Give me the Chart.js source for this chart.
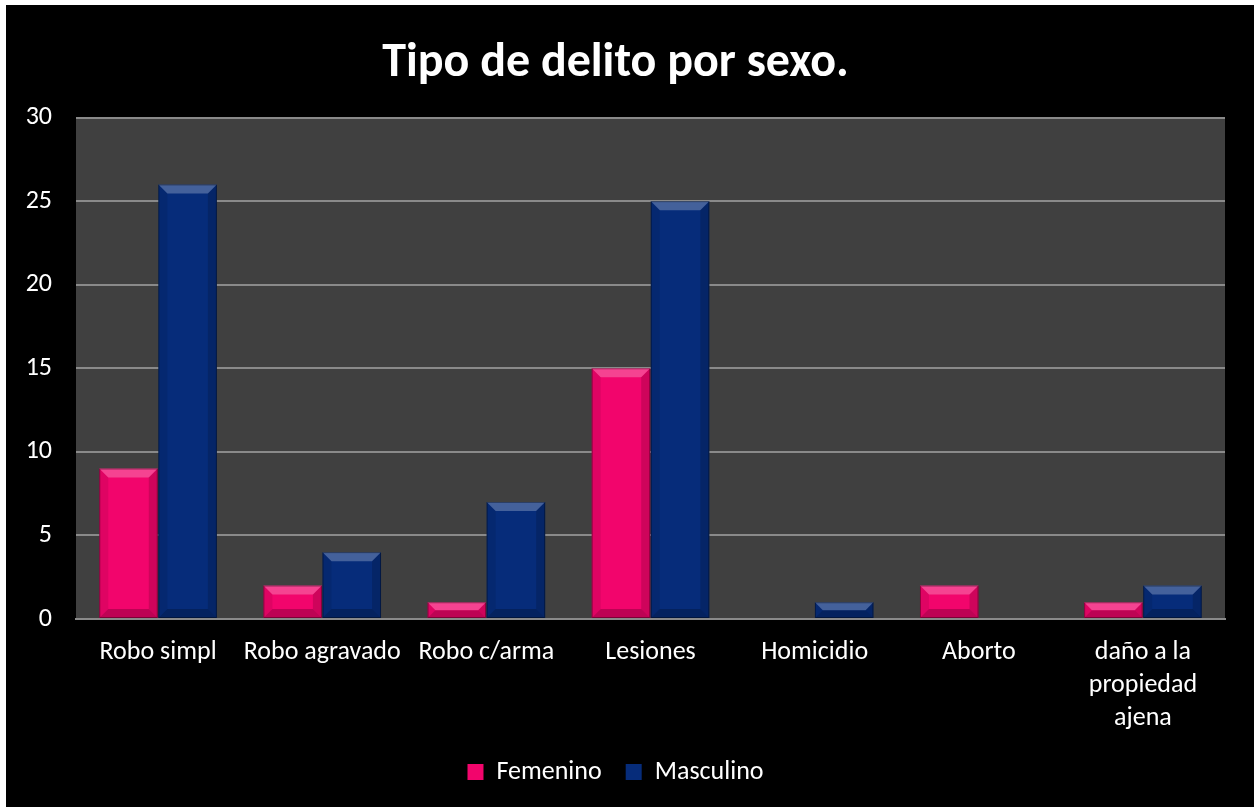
<!DOCTYPE html>
<html>
<head>
<meta charset="utf-8">
<title>Tipo de delito por sexo</title>
<script src="https://cdn.jsdelivr.net/npm/chart.js@4/dist/chart.umd.min.js"></script>
<style>
	html, body { margin: 0; padding: 0; background: #fff; }
	#wrap { position: absolute; left: 6px; top: 5px; width: 1248px; height: 802px; background: #000; }
</style>
</head>
<body>
<div id="wrap"><canvas id="canvas" width="1248" height="802"></canvas></div>
<script>
const categories = ["Robo simpl", "Robo agravado", "Robo c/arma", "Lesiones", "Homicidio", "Aborto", ["daño a la", "propiedad", "ajena"]];
const femenino = [9, 2, 1, 15, 0, 2, 1];
const masculino = [26, 4, 7, 25, 1, 0, 2];
const yTicks = [0, 5, 10, 15, 20, 25, 30];

const PINK = "#f2056c";
const BLUE = "#062c7a";
const FONT = "Carlito, Lato, 'Open Sans', sans-serif";

// dark plot background behind the bars
const plotBg = {
	id: "plotBg",
	beforeDraw(chart) {
		const { ctx, chartArea: a } = chart;
		ctx.save();
		ctx.fillStyle = "#404040";
		ctx.fillRect(a.left, a.top, a.right - a.left, a.bottom - a.top);
		ctx.restore();
	},
};

// bevelled look on each bar
const bevel = {
	id: "bevel",
	afterDatasetsDraw(chart) {
		const ctx = chart.ctx;
		chart.data.datasets.forEach((ds, i) => {
			const meta = chart.getDatasetMeta(i);
			meta.data.forEach((bar) => {
				const { x, y, base, width } = bar.getProps(["x", "y", "base", "width"], true);
				const h = base - y;
				if (h <= 0) return;
				const l = x - width / 2, r = x + width / 2, t = y, b = base;
				const s = Math.min(9, h / 2, width / 2);
				const poly = (pts, fill) => {
					ctx.beginPath();
					ctx.moveTo(pts[0][0], pts[0][1]);
					pts.slice(1).forEach(p => ctx.lineTo(p[0], p[1]));
					ctx.closePath();
					ctx.fillStyle = fill;
					ctx.fill();
				};
				ctx.save();
				poly([[l, t], [r, t], [r - s, t + s], [l + s, t + s]], "rgba(255,255,255,0.25)");
				poly([[l, t], [l + s, t + s], [l + s, b - s], [l, b]], "rgba(0,0,0,0.08)");
				poly([[r, t], [r - s, t + s], [r - s, b - s], [r, b]], "rgba(0,0,0,0.15)");
				poly([[l, b], [l + s, b - s], [r - s, b - s], [r, b]], "rgba(0,0,0,0.22)");
				ctx.strokeStyle = "rgba(0,0,0,0.35)";
				ctx.lineWidth = 1;
				ctx.strokeRect(l + 0.5, t + 0.5, width - 1, h - 1);
				ctx.restore();
			});
		});
	},
};

Chart.defaults.color = "#ffffff";
Chart.defaults.font.family = FONT;

const config = {
	type: "bar",
	data: {
		labels: categories,
		datasets: [
			{ label: "Femenino", data: femenino, backgroundColor: PINK, borderWidth: 0 },
			{ label: "Masculino", data: masculino, backgroundColor: BLUE, borderWidth: 0 },
		],
	},
	options: {
		responsive: false,
		animation: false,
		layout: { padding: { left: 0, right: 29, top: 0, bottom: 12 } },
		categoryPercentage: 0.72,
		barPercentage: 0.99,
		plugins: {
			title: {
				display: true,
				text: "Tipo de delito por sexo.",
				color: "#ffffff",
				font: { size: 48, weight: "bold", family: FONT, lineHeight: 1.2 },
				padding: { top: 30, bottom: 25 },
			},
			legend: {
				position: "bottom",
				labels: {
					color: "#ffffff",
					boxWidth: 16,
					boxHeight: 16,
					padding: 24,
					font: { size: 26, family: FONT },
				},
			},
			tooltip: { enabled: false },
		},
		scales: {
			x: {
				grid: { display: false, drawTicks: false },
				border: { display: true, color: "#8a8a8a", width: 2 },
				ticks: {
					color: "#ffffff",
					padding: 17,
					maxRotation: 0,
					autoSkip: false,
					font: { size: 26, family: FONT, lineHeight: 1.27 },
				},
				afterFit: (s) => { s.height = 116; },
			},
			y: {
				min: 0,
				max: 30,
				afterBuildTicks: (s) => { s.ticks = yTicks.map(v => ({ value: v })); },
				grid: { color: "#8a8a8a", lineWidth: 2, drawTicks: false },
				border: { display: false },
				ticks: {
					color: "#ffffff",
					padding: 24,
					font: { size: 26, family: FONT },
				},
				afterFit: (s) => { s.width = 70; },
			},
		},
	},
	plugins: [plotBg, bevel],
};

const chart = new Chart(document.getElementById("canvas").getContext("2d"), config);
</script>
</body>
</html>
